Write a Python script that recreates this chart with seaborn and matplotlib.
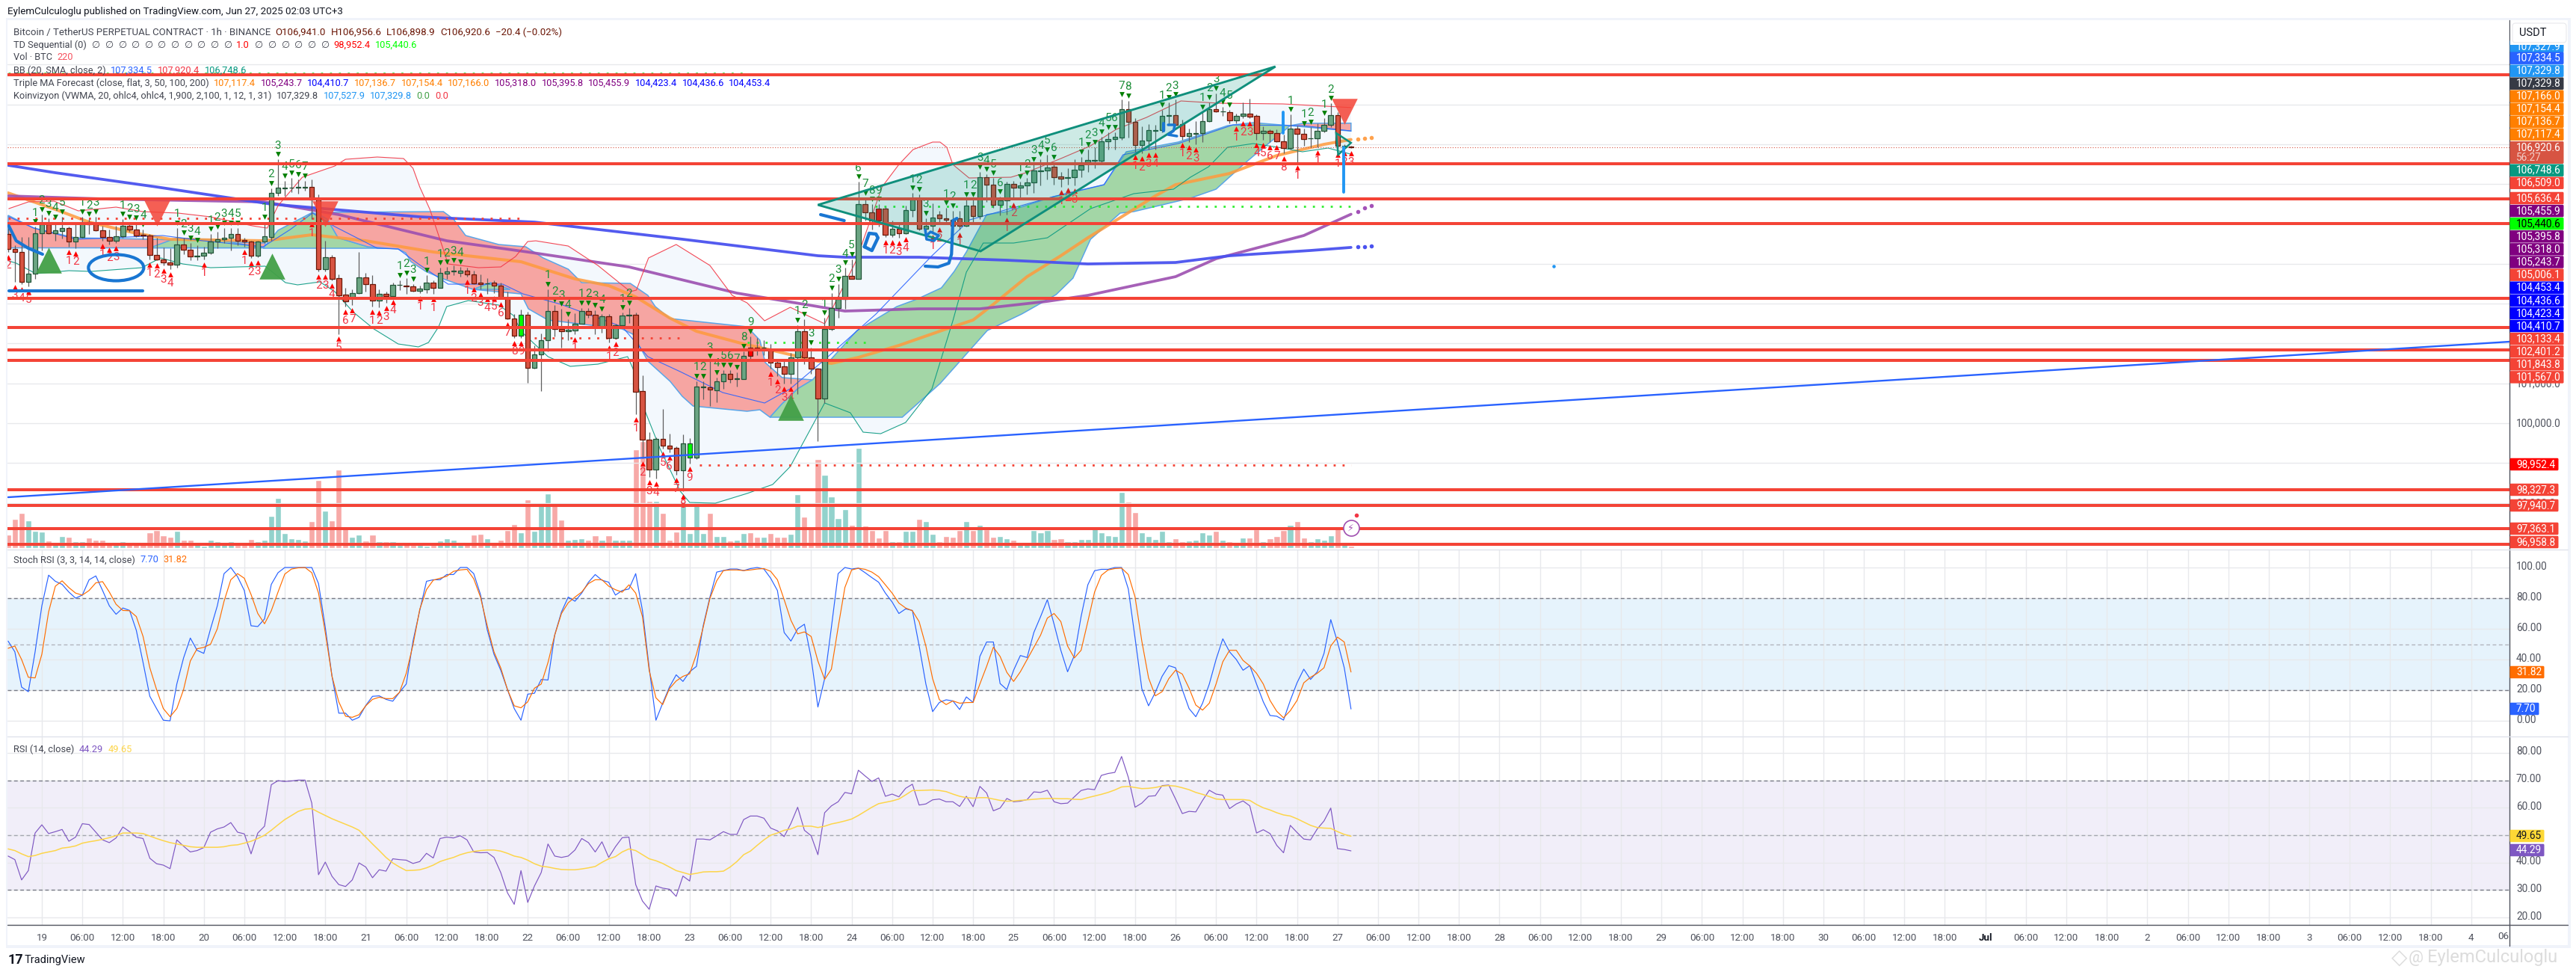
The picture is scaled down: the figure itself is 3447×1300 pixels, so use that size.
import numpy as np
import pandas as pd
import matplotlib
matplotlib.use("Agg")
import matplotlib.pyplot as plt
from matplotlib.patches import Ellipse, Rectangle, Polygon, FancyBboxPatch
import seaborn as sns

# ---------------------- DATA ----------------------
# hours since Jun 19 00:00 (UTC+3), bar -5 ... 194
hours = np.arange(-5, 195)
opens = [104741,104366,104291,103554,103759,104760,104991,104772,104829,104892,
104554,104666,105054,105004,104835,104666,104585,104685,104948,104854,
104729,104704,104229,104104,104041,103973,104479,104348,104191,104210,
104273,104554,104610,104648,104741,104591,104554,104210,104554,104679,
105772,105891,105904,105910,105910,105922,105604,103866,104160,103635,
103229,103148,103260,103654,103485,
103071,103239,103195,103465,103452,103427,103327,103365,103521,103402,
103758,103809,103777,103821,103740,103527,103502,103521,103446,103146,
102620,102201,102714,101382,101720,102076,102814,102357,102301,102333,
102502,102814,102714,102427,102677,102145,102452,102708,102714,100800,
99581,98843,99600,99431,99374,98824,99131,99131,100907,100894,
100832,101044,101232,101107,101113,
101895,101895,101889,101832,101520,101420,101245,101645,102301,101645,
101364,100626,102364,102883,103114,103689,103627,105491,105283,105378,
105378,104721,104877,104771,105341,105603,104884,104959,105228,105134,
105103,105147,104959,105453,105190,106166,105991,105472,105584,106009,
105916,105959,106034,106328,106334,
106429,106191,106147,106166,106354,106554,106592,106585,107067,107135,
107167,107880,107555,106980,107086,107342,107348,107717,107723,107505,
107211,107267,107273,107573,107880,107817,107798,107592,107705,107761,
107705,107273,107330,107273,107067,106898,107386,107254,107142,107148,
107330,107480,107723,106930,106941]
closes = [104366,104291,103554,103759,104760,104991,104772,104835,104892,104554,
104666,105054,104991,104835,104666,104585,104685,104948,104854,104716,
104704,104229,104104,104041,103973,104479,104348,104191,104210,104273,
104554,104610,104648,104741,104585,104554,104210,104554,104685,105772,
105904,105904,105916,105922,105922,105604,103866,104160,103616,103216,
103054,103260,103654,103485,103073,
103239,103195,103465,103477,103440,103327,103371,103521,103402,103765,
103802,103821,103821,103740,103508,103490,103515,103446,103146,102620,
102201,102714,101382,101720,102076,102814,102357,102301,102339,102502,
102814,102714,102427,102677,102145,102452,102695,102720,100794,99581,
98843,99600,99431,99368,98824,99487,99487,100913,100919,100838,
101044,101232,101101,101119,101696,
101695,101882,101901,101520,101414,101245,101645,102301,101645,101364,
100626,102364,102883,103114,103689,103627,105491,105283,105077,105077,
104721,104877,104771,105347,105603,104884,104959,105153,105134,105103,
104959,104959,105453,105190,106166,105991,105472,105584,106009,105916,
105959,106034,106334,106340,106422,
106179,106141,106166,106354,106473,106598,106604,107067,107135,107179,
107880,107555,106980,107086,107348,107355,107705,107730,107492,107211,
107273,107280,107573,107880,107817,107830,107592,107705,107761,107698,
107273,107330,107273,107067,106898,107386,107254,107135,107154,107330,
107480,107723,106967,106967,106920.6]
highs = [105054,104460,104679,104679,104929,105241,105148,105054,105179,104941,
104991,105179,105116,105179,104960,104866,104960,105116,105041,105023,
104866,104741,104648,104416,104398,104898,104648,104523,104460,104429,
104741,104804,104898,104898,104898,104648,104585,104585,105054,105897,
106616,106085,106148,106116,106085,106116,105741,104585,104229,103741,
103398,103366,104304,103773,103710,
103365,103302,103521,103583,103646,103490,103446,103708,103583,103896,
103915,103958,103927,103896,103833,103727,103633,103583,103533,103302,
102739,102845,102802,101957,102257,103365,102958,102864,102614,102758,
102896,102896,102833,102739,102739,102489,102770,102896,102770,101207,
99769,99643,100362,99737,99424,99718,99631,101050,101050,101551,
101144,101332,101332,101270,101802,
102177,102145,102083,101989,101614,101551,101770,102458,102614,101895,
101395,102645,103271,103489,103896,104114,106052,105647,105491,105491,
105428,105083,104990,105459,105772,105741,105146,105521,105334,105397,
105334,105334,105615,105615,106303,106241,106147,105678,106053,106084,
106053,106147,106491,106616,106741,
106554,106304,106398,106616,106679,106866,106929,107179,107304,107304,
108118,108086,107648,107442,107505,107492,107867,108055,108117,107617,
107398,107586,107805,108055,108273,107930,107867,107773,108055,108148,
107742,107442,107367,107367,107242,107742,107461,107398,107430,107523,
107648,108023,107805,106992,106956.6]
lows = [104304,103554,103491,103441,103616,104335,104741,104585,104629,104429,
104398,104648,104741,104816,104585,104491,104523,104648,104804,104679,
104616,104116,104085,103960,103866,103898,104241,104085,104085,104116,
104241,104398,104523,104335,104460,104429,104148,104166,104523,104585,
105710,105710,105804,105760,105835,105116,103804,103804,103585,102241,
102929,102960,103241,103304,102929,
102915,103021,103177,103333,103240,103302,103271,103271,103240,103396,
103615,103708,103677,103677,103490,103365,103240,103271,103115,102614,
102145,102145,101020,101363,100800,101801,102176,101895,102082,102239,
102489,102645,102239,102270,102020,102114,102427,102520,100225,99112,
98643,98612,99362,99268,98706,98299,98987,99093,100600,100425,
100519,100863,101020,100913,101113,
101583,101708,101708,101364,101176,100989,100989,100739,101489,101239,
99550,100507,102333,102645,102864,103627,103627,105083,104865,104927,
104677,104677,104646,104740,105177,104834,104740,104802,104990,105021,
104677,104865,104927,105053,105115,105553,105397,105209,105240,105615,
105647,105740,105772,105959,106116,
105991,105929,105991,105960,106179,106304,106398,106523,106866,106866,
107117,107167,106804,106773,106866,106866,107305,107492,107461,107117,
107055,106992,107055,107554,107805,107711,107523,107523,107648,107648,
107117,107117,107055,107055,106773,106867,106554,106960,106929,106929,
107305,107430,106867,106898,106898.9]
volumes = [1850,3890,4720,3730,2340,2180,990,760,1650,1520,860,860,1420,1150,1060,660,760,860,760,760,
760,2150,2410,1750,1490,2310,1060,1150,760,330,1060,860,760,860,430,430,1250,860,1060,4320,
6700,2050,1350,1250,990,3630,9110,5020,3730,10460,2840,1550,1850,960,1850,860,860,860,430,760,
430,430,260,430,960,1350,1150,430,760,1850,1950,1350,760,1150,2410,3230,2150,6500,2340,5910,
7290,5910,3830,1150,1250,1350,1060,1750,1150,1750,1060,1060,1060,13230,14300,6300,6300,4720,1150,2240,
6200,2050,6200,2050,4720,1650,1650,960,1060,2050,
2130,1480,1480,2040,1480,1480,1910,7250,4210,2910,11930,9770,6900,3990,5210,3120,13450,2990,2390,1390,
2390,950,950,2340,2260,3910,3560,1910,950,1610,1480,2390,3560,2390,3120,2470,1480,1610,1300,1090,
740,740,2390,2130,2390,1170,1260,950,870,1170,1170,2910,2130,1740,1610,7550,6160,4770,2130,1610,
1170,2340,950,1300,950,1040,1090,2130,1820,2340,1090,870,520,1390,1390,2470,950,1300,1610,2390,
3120,3560,1390,950,1300,1090,1690,2690,520,300]

stoch_k = [52,45,22,19,45,75,95,91,89,84,80,82,92,94.5,85,75,69.5,73.6,72,59,38,16,8,0.4,0,24,41,54,46,44,60,75,96,100,94,85,62,61.5,66.5,89,96.6,100,100,100,100,100,89.5,61,29,5,5,0.4,2.3,10,16,16.3,14,12.8,18.6,24,52,72,91,92,92,95.4,95.4,100,100,96,82.4,59.4,43.4,33,20.4,8,0.4,17.4,18,27,26.6,56,71,80.7,78,83.3,90.4,95.4,91.7,90.4,82,85,86,96,72,34.6,0.4,11.5,22,30,25.7,32,35.5,62,80.7,97,98,99,99,98,
99.3,100,99,93,85,57.6,52,60,63,41,9,27.5,61,96,100,99,99.6,96.6,93.4,90.4,83.3,77.5,70,73,72,49,24,6,12,13.7,13,7.4,15.6,12,42,51.4,51.4,24.3,20.4,33,42.6,41.3,57.6,68,79,63,46,32,42.6,68,88.7,97.9,98.8,98.8,100,100,86,54,21,9.8,18.6,29,36,34.6,20.4,8,2.7,11.5,24,40,53.5,45,40,33,36,24,12.4,3.5,3,0.5,13.3,24.8,33.7,27,32,44,66,51.4,34.6,7.7]
stoch_d = [47.3,48.8,40,28.4,28,43.4,71,87.8,91.3,86.9,83.3,82,85,90,90.8,84,76,72,71.8,68,55,34.6,20.4,8,2.7,8,20.4,39,47,47.9,50,60,78,92,96,93,82.4,70,63.3,71.8,84,95.7,99,99.8,100,96.6,83.3,57.6,29,12.4,3,2.3,4,9.8,14,15.4,14.5,14.5,18.6,31,49.6,72.7,85.6,91.7,93,94.3,97.5,98.4,98.8,92.6,80.7,62,45,34.6,20.4,9.8,8.5,12.4,21.3,24,38,55.9,70,77,80.7,84,89.5,92,92,87.8,85.5,83.9,88.7,83.3,68,32.8,15,10.6,21,26,29,30.7,43.4,61,79.8,91.3,98,98.4,98.4,98,
98.4,99,99.3,97.5,92,79,65.6,56.7,58,55,39,27,33.7,61,87,98.4,99.5,98.8,97,94,88.7,83.3,76.8,73.6,71.8,64.7,48.8,27.5,13.8,10.6,13,11.5,11.9,12,24,35.5,48,42,31.6,25.7,32,40,47.9,55.9,67,70,64.7,48.8,41,46,64.7,84,94.9,98.4,99.3,99.6,95.4,80.7,52,28,16.3,19,27.5,33,30.5,21.3,10.3,7,11.5,24,38.5,46,46,39.4,35.8,31,24,13.3,6.2,2,6.6,13.3,24.8,28.4,31,34.6,48.8,54.6,51.4,31.82]
rsi = [42.4,41.1,33.7,37.1,50.8,53.8,50.6,51.3,52.1,47.8,49.3,54.2,53.9,51.1,48.3,47.3,49,53,51.3,49.3,48.8,41.6,39.6,39.1,37.8,48.3,46,43.9,44.4,45.5,51.1,52.3,53,54.6,51.1,50.5,43.2,50.8,53.3,68.4,69.9,69.6,69.8,70.1,70.1,61.7,35.6,40.2,35,32,31.3,33.7,39.9,38.4,34.5,37.4,36.9,41.4,41.1,40.9,39.7,40.4,43.4,41.7,48.8,49.3,49,49.8,48.3,43.9,43.6,43.7,41.9,36.4,29,24.8,37.1,25.5,31.5,36.4,46.8,42.4,41.9,42.4,44.6,48.8,47.3,43.9,47.6,41.9,45.8,49.1,49.3,32,26,23,31.5,30.7,30.3,27.7,35.1,33.3,48.6,48.6,48.3,49.8,51.3,50.3,50.3,55.7,
57,57,56.2,52.6,51.6,49.5,54.3,60.2,51.8,49.8,42.9,58.2,60.7,62.2,65.6,65.1,73.7,71.6,69.6,70.9,64.2,65,64,67.1,68.6,61,61.4,62.9,63.2,62.2,62.2,60.5,64.2,60.4,67.8,65.4,58.9,59.9,63.4,62.2,62.4,63,65.8,65.6,66.4,62.2,61.5,61.7,64,66.3,66.9,66.6,71.8,72.5,72.9,78.7,71.1,60.2,61.7,64.2,64.4,68.1,68.3,63.2,57.9,58.7,58.5,62.7,66.4,65,64.6,59.7,61.4,62.5,60.7,50.8,52,50.6,46.3,43.6,53.6,51,48.6,48.3,52.3,55.2,59.9,45.1,44.8,44.29]
rsi_ma = [45,44.4,43.2,42.2,42.6,43.4,43.9,44.4,45.3,45.6,46.1,47.1,47.6,48,48.5,49.1,49.8,50.8,50.8,50.8,50.6,49.7,48.8,48,47.3,46.8,46.3,45.8,45.6,45.6,45.6,45.6,45.8,46.3,46.5,47.1,47.8,48.8,50,51.8,53.8,55.7,57.2,58.7,59.5,59.7,58.4,57.2,56,55,54,53,51.8,49.3,46.8,44.4,41.9,39.9,38.4,37.1,37.2,37.4,38.1,39.1,40.4,41.2,41.9,42.9,43.6,44.1,44.4,44.6,44.6,44.2,43.4,42.4,41.9,40.9,39.6,38.7,38.4,37.9,37.5,37.4,37.4,37.7,38.1,38.6,40.1,41.4,42.2,43.9,45,44.4,42.9,41.4,40.7,39.7,38.4,37.1,36.4,35.7,36.1,36.6,36.7,36.7,36.9,38.4,40.4,42.9,
44.2,46.3,48.3,50,50.8,51.8,52.3,53.3,53.3,53.3,52.8,53.3,54.1,54.6,55.2,55.9,57.2,58.7,60.2,61.5,62,62.5,63.2,64.7,66.3,66.3,66.4,66.5,66.3,65.9,65,64.2,63.7,63.5,63.7,63.7,63.2,62.7,62.4,62.5,62.7,62.9,63.1,63.3,63.4,63.4,63.3,63.3,63.1,63,63.7,64.3,64.9,65.6,66.5,67.6,67.8,67.4,67,67.1,67.4,67.9,68.1,67.9,67.3,66.6,65.6,64.9,64.1,63.2,63,63,63,63,62.7,61.2,60,59.2,58.2,57.4,57,56,54.8,53.6,52.8,52.6,52.5,51.3,50.3,49.65]

ma200_h = [-5,2,17,34,56,73,95,115,119,130,143,155,168,176,188,194]
ma200_p = [106472,106285,105928,105497,105178,105046,104615,104202,104165,104165,104090,103996,104033,104202,104334,104410.7]
ma100_h = [-5,9,33,44,60,72,87,103,105,113,119,130,139,149,155,168,174,187,194]
ma100_p = [105703,105628,105553,105234,104577,104296,103921,103264,103208,102983,102814,102870,102870,103058,103208,103677,104127,104709,105243.7]
ma50_h = [-5,2,7,14,19,33,40,48,58,71,79,84,88,93,97,104,108,115,117,121,127,134,138,141,146,151,155,165,168,176,183,190,194]
ma50_p = [105778,105365,105046,104765,104615,104577,104728,104577,104296,104052,103621,103452,103170,102645,102307,101989,101838,101557,101501,101651,101951,102364,102589,102983,103677,104202,104652,105703,105984,106266,106716,106997,107117.4]
fc_hours = [195,196,197]
fc_ma50 = [107136.7,107154.4,107166.0]
fc_ma100 = [105318.0,105395.8,105455.9]
fc_ma200 = [104423.4,104436.6,104453.4]

bb_up_h = [-4.9,-2,1.8,5.4,11,15,20.2,25,31.2,33.4,35,38.6,43.4,45,49.7,53.6,55,56,57.5,59.1,60.2,64.7,68,70.2,72,73.2,78,82.4,87.2,88.1,89.9,94,99,102.3,104.5,107.1,110.9,116,120.6,124.5,127,129.1,132,133.1,134.1,135,137.4,143.6,145.8,151,155.4,159.2,163.7,168.8,174.4,183.9,194]
bb_up_p = [105384,105553,105572,105328,105422,105309,105272,105178,104953,104896,105459,106172,106453,106622,106679,106641,106397,105928,105365,104559,103996,103902,103921,104183,104559,104577,104446,103958,103302,103339,104146,104484,103958,103208,103020,102570,102908,102495,104052,105928,106491,106866,107054,107054,106922,106491,106153,106172,106285,106641,106960,107373,107673,108086,108029,108011,107920.4]
bb_lo_h = [-4.9,-3.8,-0.9,4,7.3,14.8,17.6,20.9,25,33.1,36.1,37.9,41.2,43.4,46.1,49.2,52.8,55.8,57.3,58.8,60,63.2,67.7,69.9,71,75,78.3,82.4,86.8,87.6,89.4,91.6,94.6,96,99.8,104.5,108.3,110.9,116,119.8,121.7,124.3,128,131.9,135,137,139.5,144,149,155.4,161.8,167.7,170.2,172.9,175.7,179.5,183.2,186.8,190.6,194]
bb_lo_p = [104071,104015,103752,103827,103808,103902,104146,103996,103902,103940,103527,103471,103546,103302,102795,102364,101989,101914,102026,102420,102927,103077,102964,102701,102307,101670,101426,101482,101670,101369,100300,99362,98293,98011,97993,98237,98462,98912,100507,100263,99775,99737,100019,100863,102570,103790,104521,104521,104652,105384,105759,105872,106172,106435,106922,107016,106922,106810,106904,106748.6]
bb_mid_h = [-4.9,-1.2,5.1,17.9,23.9,32.8,36.8,40.1,43.4,49.7,52.8,55.8,60.2,68.3,71.3,76.9,86,89.8,94.6,100.9,107.1,110.9,116,123.6,131.9,137.5,149.9,157.4,160.2,168.4,176.5,186.8,194]
bb_mid_p = [105178,104896,104615,104709,104577,104427,104859,105272,104934,104390,104371,103996,103489,103489,103245,102983,102420,101670,101294,100769,100507,100863,101595,102739,104202,105103,105684,105984,106735,107016,107485,107466,107334.5]

red1_h = [-5,-1.2,4.9,16.5,33.1,33.1,-5]
red1_p = [105215,104896,104652,104615,104521,104400,104400]
grn0_h = [16,20,26,33]
grn0_p = [104400,104650,104600,104400]
grn1_h = [32.8,35,40.1,42.3,43.9,48.3,52.8]
grn1_p = [104390,104840,105290,105121,104652,104427,104390]
red2_h = [40.6,59.5,61,62.8,67.7,71.7,74.3,78,80,87.2,89.8,90.9,93.1,104.5,106.4,107.2,109.7,114.2,112,109.7,107.9,106.4,104.5,96.5,94.9,93.1,89.8,87.6,86,75,72.1,71,63.9,59.5,56.9,54.7,53.9,52.8,48.3,43.9,42.3]
red2_p = [105290,105309,105121,104709,104484,104427,104146,103865,103527,103508,103208,102927,102626,102420,102082,101520,101144,101088,100863,100488,100150,100338,100300,100431,100675,101051,101557,102232,102364,102589,102870,103245,103358,103621,103808,104052,104277,104371,104427,104652,105121]
grn2_h = [63.9,66.5,69.4]
grn2_p = [103358,103527,103358]
grn3_h = [107.9,109.7,112,114.2,120.8,126.7,129.7,133.3,135.2,137,140,143,149.9,157.4,160.7,168.4,175.7,179.5,185,180.8,178.3,174,170.2,161.8,159.8,155.4,152.8,150.3,145.2,140.1,133.1,127.5]
grn3_p = [100150,100488,100863,101088,102326,102927,103114,103396,103808,104296,105234,105309,105684,105984,106810,107054,107466,107541,107466,106885,106528,105872,105647,105309,105272,104615,103640,103227,102739,102326,100994,100150]
red3_h = [185,186.8,194,194]
red3_p = [107466,107523,107528,107330]

red_levels = [108742,106509,105636.4,105006.1,103133.4,102401.2,101843.8,101567,98327.3,97940.7,97363.1,96958.8]
trend_h = [-5,365.67]
trend_p = [98143,102045]
wedge_h = [115,182.8,139.1]
wedge_p = [105478,108949,104315]
wedge2_h = [191.8,194,192.1]
wedge2_p = [107279,107035,106735]

td_up_h = [-1,0,1,2,3,6,7,8,12,13,14,15,20,21,22,23,25,26,27,28,29,33,34,35,36,37,38,39,53,54,55,57,59,60,61,62,75,76,77,78,80,81,82,83,86,87,97,98,99,100,101,102,103,104,105,112,113,114,116,117,118,119,120,121,122,123,124,129,130,131,134,135,137,138,139,140,141,142,145,146,147,148,149,150,154,155,156,157,158,159,160,161,166,167,168,172,173,174,175,176,185,187,188,190,191]
td_up_n = [1,2,3,4,5,1,2,3,1,2,3,4,1,2,3,4,1,2,3,4,5,1,2,3,4,5,6,7,1,2,3,1,1,2,3,4,1,2,3,4,1,2,3,4,1,2,1,2,3,4,5,6,7,8,9,1,2,3,1,2,3,4,5,6,7,8,9,1,2,3,1,2,1,2,3,4,5,6,1,2,3,4,5,6,1,2,3,4,5,6,7,8,1,2,3,1,2,3,4,5,1,1,2,1,2]
td_dn_h = [-5,-4,-3,-2,4,5,9,10,11,16,17,18,19,24,30,31,32,40,41,42,43,44,45,46,49,50,51,52,56,58,63,64,65,66,67,68,69,70,71,79,84,85,88,89,90,91,92,93,94,95,96,108,109,110,111,125,126,127,128,132,133,136,143,144,151,152,153,162,163,164,165,169,170,171,177,178,179,180,181,182,183,184,186,189,192,193,194]
td_dn_n = [2,3,4,5,1,2,1,2,3,1,2,3,4,1,1,2,3,1,2,3,4,5,6,7,1,2,3,4,1,1,1,2,3,4,5,6,7,8,9,1,1,2,1,2,3,4,5,6,7,8,9,1,2,3,4,1,2,3,4,1,2,1,1,2,1,2,3,1,2,3,4,1,2,3,1,2,3,4,5,6,7,8,1,1,1,2,3]
lime_bars = [71,96]
bright_red_bars = [105,124]
tri_down_h = [17,42,193]
tri_down_p = [105281,105253,107814]
tri_up_h = [1,34.1,111]
tri_up_p = [104090,103940,100403]

dot_red_a = ([-5,71],[105140,105140])
dot_red_b = ([73,94.7],[102139,102139])
dot_red_c = ([97.5,194],[98952.4,98952.4])
dot_lime_a = ([-5,104],[108780,108780])
dot_lime_b = ([123.5,194],[105440.6,105440.6])
dot_lime_c = ([104.5,123],[102026,102026])
last_price = 106920.6

ink_a_h=[-4.9,-3.8,-2,0.1];        ink_a_p=[104953,104577,104390,104240]
ink_b_h=[-4.9,15];                 ink_b_p=[103326,103326]
ink_c_h=[115.4,118.9];             ink_c_p=[105234,105084]
ink_o_h=[121.9,122.6,123.6,123.9,123,121.9]; ink_o_p=[104427,104765,104746,104652,104333,104427]
ink_b6_h=[130.9,131.1,132.2,132.9,131.7,131.1]; ink_b6_p=[104859,104615,104577,104709,104802,104709]
ink_j_h=[135.6,135,134.8,134.4,132.8,130.9]; ink_j_p=[105140,105084,104240,104015,103921,103940]
ink_1_h=[166.2,166.2];             ink_1_p=[107523,107335]
ink_2_h=[166.9,167.9,167.7,166.9,168.2]; ink_2_p=[107486,107486,107335,107241,107204]
ink_v_h=[183.9,183.9];             ink_v_p=[107804,107279]
ink_w_h=[192.9,192.9];             ink_w_p=[106922,105797]

axis_labels = ["107,334.5","107,329.8","107,329.8","107,166.0","107,154.4","107,136.7","107,117.4"]
axis_colors = ["#2962ff","#2196f3","#363a45","#ff7f00","#ff7f00","#ff7f00","#ff7f00"]
axis2_labels = ["105,636.4","105,455.9","105,440.6","105,395.8","105,318.0","105,243.7","105,006.1","104,453.4","104,436.6","104,423.4","104,410.7","103,133.4","102,401.2","101,843.8","101,567.0"]
axis2_colors = ["#f44336","#800080","#00ff00","#800080","#800080","#800080","#f44336","#0000ff","#0000ff","#0000ff","#0000ff","#f44336","#f44336","#f44336","#f44336"]
low_labels = ["98,952.4","98,327.3","97,940.7","97,363.1","96,958.8"]
low_colors = ["#ff0000","#f44336","#f44336","#f44336","#f44336"]
stoch_ticks = [0,20,40,60,80,100]
rsi_ticks = [20,30,40,50,60,70,80]

assert all(len(a)==200 for a in [opens,closes,highs,lows,volumes,stoch_k,stoch_d,rsi,rsi_ma]), [len(a) for a in [opens,closes,highs,lows,volumes,stoch_k,stoch_d,rsi,rsi_ma]]
assert len(td_up_h)==len(td_up_n) and len(td_dn_h)==len(td_dn_n), (len(td_up_h),len(td_up_n),len(td_dn_h),len(td_dn_n))

# ---------------------- STYLE ----------------------
sns.set_theme(style="white")
plt.rcParams['font.family'] = ['Roboto','DejaVu Sans']
W,H = 3448,1300
fig = plt.figure(figsize=(W/100,H/100),dpi=100,facecolor='white')
def axpx(x0,y0,x1,y1):
    return fig.add_axes([x0/W,1-y1/H,(x1-x0)/W,(y1-y0)/H])
XL,XR = 10,3358
ax = axpx(XL,27,XR,735)
ax_s = axpx(XL,735,XR,985)
ax_r = axpx(XL,985,XR,1237)
xlim = (-5.094,365.67)
GRID='#e8e9ec'
ax_v = ax.twinx()
ax.set_zorder(ax_v.get_zorder()+1); ax.patch.set_visible(False)

# volume
df = pd.DataFrame({'hour':hours,'vol':volumes,'dir':np.where(np.array(closes)>=np.array(opens),'up','down')})
sns.barplot(data=df,x='hour',y='vol',hue='dir',palette={'up':'#92d2cc','down':'#f7a9a7'},native_scale=True,
            dodge=False,width=0.9,saturation=1,legend=False,ax=ax_v)
ax_v.set_ylim(-200,70600); ax_v.set_yticks([]); ax_v.set_ylabel(''); ax_v.set_xlabel('')
ax_v.grid(False)

def line(axx,xs,ys,color,lw,z=4,alpha=1,ls='-'):
    sns.lineplot(x=list(xs),y=list(ys),ax=axx,color=color,lw=lw,zorder=z,alpha=alpha,ls=ls,estimator=None,sort=False,legend=False,errorbar=None)

# Bollinger
ax.fill(list(bb_up_h)+list(bb_lo_h[::-1]),list(bb_up_p)+list(bb_lo_p[::-1]),color='#f3f8fd',zorder=1,lw=0)
# Koinvizyon bands
for hs,ps,c in [(red1_h,red1_p,'#f7a3a0'),(grn0_h,grn0_p,'#a3d6a6'),(grn1_h,grn1_p,'#a3d6a6'),(red2_h,red2_p,'#f6a5a2'),
                (grn2_h,grn2_p,'#a3d6a6'),(grn3_h,grn3_p,'#a3d6a6'),(red3_h,red3_p,'#f6a5a2')]:
    ax.add_patch(Polygon(np.c_[hs,ps],closed=True,facecolor=c,edgecolor='#5aa5e8',lw=1.1,zorder=2))
# thin BB lines
line(ax,bb_up_h,bb_up_p,'#f23645',0.8,3.2,0.9)
line(ax,bb_lo_h,bb_lo_p,'#089981',0.8,3.2,0.9)
line(ax,bb_mid_h,bb_mid_p,'#2962ff',0.8,3.2,0.9)
# Triple MA
line(ax,ma50_h,ma50_p,'#ff9a3c',2.9,3,0.85)
line(ax,ma100_h,ma100_p,'#9c4fb0',2.7,3,0.9)
line(ax,ma200_h,ma200_p,'#4a52ef',2.7,3,0.95)
for fc,c in [(fc_ma50,'#ffa24d'),(fc_ma100,'#a352b8'),(fc_ma200,'#4a52ef')]:
    ax.scatter(fc_hours,fc,s=16,color=c,zorder=3,lw=0)

# candles
o,c,hi,lo = map(np.array,(opens,closes,highs,lows))
up = c>=o
ax.vlines(hours,lo,hi,color='#5f5f5f',lw=0.9,zorder=5)
bcol = np.where(up,'#6ba583','#d75442').astype(object)
ecol = np.where(up,'#225437','#6b1707').astype(object)
for b in lime_bars: bcol[b+5]='#00ff00'
for b in bright_red_bars: bcol[b+5]='#ff0000'
ax.bar(hours,np.maximum(np.abs(c-o),6),bottom=np.minimum(o,c),width=0.72,color=list(bcol),edgecolor=list(ecol),lw=0.9,zorder=5.2)

# TD sequential
hi_map = dict(zip(hours,highs)); lo_map = dict(zip(hours,lows))
ax.scatter(td_up_h,[hi_map[t]+130 for t in td_up_h],marker='v',s=24,color='#007f00',lw=0,zorder=6)
ax.scatter(td_dn_h,[lo_map[t]-130 for t in td_dn_h],marker='^',s=24,color='#ff0000',lw=0,zorder=6)
for t,n in zip(td_up_h,td_up_n):
    ax.text(t,hi_map[t]+350,str(n),color='#1f8f3a',fontsize=11,ha='center',va='center',zorder=6)
for t,n in zip(td_dn_h,td_dn_n):
    ax.text(t,lo_map[t]-350,str(n),color='#f23645',fontsize=11,ha='center',va='center',zorder=6)
ax.scatter(tri_down_h,tri_down_p,marker='v',s=620,color='#f44336',alpha=0.85,lw=0,zorder=6.5)
ax.scatter(tri_up_h,tri_up_p,marker='^',s=620,color='#43a047',alpha=0.95,lw=0,zorder=6.5)

# levels
for v in red_levels:
    ax.axhline(v,color='#f44336',lw=2.9,zorder=7)
line(ax,trend_h,trend_p,'#2962ff',1.7,7.5)
ax.axhline(last_price,color='#d75442',lw=0.8,ls=(0,(1,2)),zorder=4)
for (xs,ys),col in [(dot_red_a,'#f44336'),(dot_red_b,'#f44336'),(dot_red_c,'#f44336'),(dot_lime_a,'#43d843'),(dot_lime_b,'#33ee33'),(dot_lime_c,'#33ee33')]:
    ax.plot(xs,ys,color=col,lw=2,ls=(0,(1,3.3)),zorder=4.5)

# drawings
ax.add_patch(Polygon(np.c_[wedge_h,wedge_p],closed=True,facecolor=(0.03,0.6,0.5,0.2),edgecolor='#0f8f7c',lw=2.1,zorder=8))
ax.add_patch(Polygon(np.c_[wedge2_h,wedge2_p],closed=True,facecolor=(0.03,0.6,0.5,0.08),edgecolor='#0f8f7c',lw=1.8,zorder=8))
INK='#1976d2'
for hs,ps,lw_,cc in [(ink_a_h,ink_a_p,3,INK),(ink_b_h,ink_b_p,3,INK),(ink_c_h,ink_c_p,3,INK),(ink_o_h,ink_o_p,3.2,INK),(ink_b6_h,ink_b6_p,2.5,INK),
                     (ink_j_h,ink_j_p,3,INK),(ink_1_h,ink_1_p,3,INK),(ink_2_h,ink_2_p,2.5,INK),(ink_v_h,ink_v_p,2.8,'#2196f3'),(ink_w_h,ink_w_p,2.8,'#2196f3')]:
    line(ax,hs,ps,cc,lw_,9)
ax.add_patch(Ellipse((11,103902),width=8.2,height=656,fill=False,edgecolor=INK,lw=3,zorder=9))
ax.scatter([224],[103940],s=5,color='#2196f3',zorder=4)
ax.scatter([194],[97370],s=230,facecolor='white',edgecolor='#a04fb0',lw=1.2,zorder=9)
ax.text(194,97370,'\u26a1',color='#a04fb0',fontsize=9,ha='center',va='center',zorder=9.5,family='DejaVu Sans')
ax.scatter([194.8],[97700],s=16,color='#f23645',zorder=9.6,lw=0)

# Stoch RSI
ax_s.axhspan(20,80,color='#e6f3fc',lw=0,zorder=0.5)
for v,cc,l in [(80,'#787b86',1.0),(20,'#787b86',1.0),(50,'#b2b5be',1.0)]:
    ax_s.axhline(v,color=cc,lw=l,ls=(0,(3.5,2.5)),zorder=2)
line(ax_s,hours,stoch_k,'#2962ff',0.85)
line(ax_s,hours,stoch_d,'#ff6d00',0.85)
# RSI
ax_r.axhspan(30,70,color='#f1eef9',lw=0,zorder=0.5)
for v,cc in [(70,'#787b86'),(30,'#787b86'),(50,'#a3a6af')]:
    ax_r.axhline(v,color=cc,lw=1.0,ls=(0,(3.5,2.5)),zorder=2)
line(ax_r,hours,rsi,'#7e57c2',0.85)
line(ax_r,hours,rsi_ma,'#fdd54a',1.1)

# axes
tick_h = np.arange(0,366,6)
tick_l=[]
for t in tick_h:
    if t%24==0:
        d=19+t//24
        tick_l.append('Jul' if d==31 else str(d if d<=30 else d-30))
    else:
        tick_l.append(f'{t%24:02d}:00')
for A,yl,yt in [(ax,(96830,110112),np.arange(97000,110000,1000)),(ax_s,(-10.2,111.7),stoch_ticks),(ax_r,(17.3,86),rsi_ticks)]:
    A.set_xlim(*xlim); A.set_ylim(*yl)
    A.set_xticks(tick_h); A.set_yticks(yt)
    A.grid(True,color=GRID,lw=1.0,zorder=0); A.set_axisbelow(True)
    A.tick_params(length=0,labelleft=False,labelbottom=False,labelright=False,left=False,right=False)
    A.set_xlabel(''); A.set_ylabel('')
    for s in A.spines.values(): s.set_visible(False)
ax_v.set_xlim(*xlim)
for s in ax_v.spines.values(): s.set_visible(False)
ax_v.tick_params(length=0,labelbottom=False,labelright=False)
ax_v.set_xticks([])
ax_s.patch.set_visible(True)
ax_r.tick_params(labelbottom=True,pad=8,labelsize=9.6,labelcolor='#50535e')
ax_r.set_xticklabels(tick_l)
for lab,t in zip(ax_r.get_xticklabels(),tick_l):
    if t=='Jul':
        lab.set_fontweight('bold'); lab.set_color('#131722')

# overlay
ov = fig.add_axes([0,0,1,1],zorder=100); ov.set_xlim(0,W); ov.set_ylim(H,0); ov.axis('off'); ov.patch.set_visible(False)
BAND='#f0f3fa'
ov.add_patch(Rectangle((8,24),3432,3,color=BAND,lw=0))
ov.add_patch(Rectangle((8,1264),3432,4,color=BAND,lw=0))
ov.add_patch(Rectangle((3436,24),4,1244,color=BAND,lw=0))
ov.add_patch(Rectangle((8,24),2,1244,color=BAND,lw=0))
ov.plot([XR,XR],[27,1265],color='#50535e',lw=1)
ov.plot([XL,3436],[1237,1237],color='#50535e',lw=1)
ov.plot([XL,3436],[735,735],color='#e0e3eb',lw=1)
ov.plot([XL,3436],[985,985],color='#e0e3eb',lw=1)
ov.text(3357,1252,'06',ha='right',va='center',fontsize=9.6,color='#50535e')

rend = fig.canvas.get_renderer()
TXT='#434651'
def seq(x,y,parts,gap=6.5,fs=9.2):
    for s,cc in parts:
        t=ov.text(x,y,s,color=cc,fontsize=fs,va='center',ha='left')
        x+=t.get_window_extent(rend).width+gap
R_='#6b1707'; O_='#ff7f00'; P_='#800080'; B_='#0000ff'
seq(10,16,[("EylemCulculoglu published on TradingView.com, Jun 27, 2025 02:03 UTC+3",'#131722')],fs=9.6)
seq(18,43,[("Bitcoin / TetherUS PERPETUAL CONTRACT · 1h · BINANCE",TXT),("O106,941.0",R_),("H106,956.6",R_),("L106,898.9",R_),("C106,920.6",R_),("−20.4 (−0.02%)",R_)],fs=9.5)
seq(18,60,[("TD Sequential (0)",TXT)]+[("∅",TXT)]*11+[("1.0",'#ff0000')]+[("∅",TXT)]*6+[("98,952.4",'#ff0000'),("105,440.6",'#00ff00')])
seq(18,77,[("Vol · BTC",TXT),("220",'#f7525f')])
seq(18,94,[("BB (20, SMA, close, 2)",TXT),("107,334.5",'#2962ff'),("107,920.4",'#f23645'),("106,748.6",'#089981')])
seq(18,111,[("Triple MA Forecast (close, flat, 3, 50, 100, 200)",TXT),("107,117.4",O_),("105,243.7",P_),("104,410.7",B_),("107,136.7",O_),("107,154.4",O_),("107,166.0",O_),
            ("105,318.0",P_),("105,395.8",P_),("105,455.9",P_),("104,423.4",B_),("104,436.6",B_),("104,453.4",B_)])
seq(18,128,[("Koinvizyon (VWMA, 20, ohlc4, ohlc4, 1,900, 2,100, 1, 12, 1, 31)",TXT),("107,329.8",TXT),("107,527.9",'#2196f3'),("107,329.8",'#2196f3'),("0.0",'#43a047'),("0.0",'#f23645')])
seq(18,749,[("Stoch RSI (3, 3, 14, 14, close)",TXT),("7.70",'#2962ff'),("31.82",'#ff6d00')])
seq(18,1002,[("RSI (14, close)",TXT),("44.29",'#7e57c2'),("49.65",'#fdd54a')])

def tag(y,s,color,x1=3432,tc='white',h=16.5):
    ov.add_patch(FancyBboxPatch((XR+0.5,y-h/2),x1-XR-2,h,boxstyle='round,pad=0,rounding_size=1.5',fc=color,ec='none',zorder=3))
    ov.text(3367,y,s,color=tc,fontsize=9.8,va='center',ha='left',zorder=4)
for yy,s in [(513,"101,000.0"),(566,"100,000.0"),(673,"98,000.0")]:
    ov.text(3367,yy,s,color='#50535e',fontsize=9.8,va='center',ha='left',zorder=2)
tag(62,"107,327.9",'#2196f3')
ov.add_patch(Rectangle((XR+1,27),77,33,color='white',lw=0,zorder=3.5))
ov.add_patch(FancyBboxPatch((3362,31),72,26,boxstyle='round,pad=0,rounding_size=4',fc='white',ec='#e8e9ec',lw=0.8,zorder=5))
ov.text(3371,44,"USDT",fontsize=10.5,color='#131722',va='center',zorder=6)
for i,(s,cc) in enumerate(zip(axis_labels,axis_colors)):
    tag(77.7+17*i,s,cc)
ov.add_patch(FancyBboxPatch((XR+0.5,189),72,30,boxstyle='round,pad=0,rounding_size=1.5',fc='#d75442',ec='none',zorder=3))
ov.text(3367,197,"106,920.6",color='white',fontsize=9.8,va='center',zorder=4)
ov.text(3367,211,"56:27",color='#f3cfc9',fontsize=9.8,va='center',zorder=4)
tag(227.7,"106,748.6",'#089981')
tag(244.7,"106,509.0",'#f44336')
for i,(s,cc) in enumerate(zip(axis2_labels,axis2_colors)):
    tag(265+17.1*i,s,cc,tc='black' if cc=='#00ff00' else 'white')
for yy,s,cc in zip([621,655,676,707,725],low_labels,low_colors):
    tag(yy,s,cc,x1=3425)
for v,yy in zip(stoch_ticks,[963,922,881,840,799,758]):
    ov.text(3367,yy,f"{v:.2f}",color='#50535e',fontsize=9.8,va='center')
for v,yy in zip(rsi_ticks,[1226,1189,1152,None,1079,1042,1005]):
    if yy: ov.text(3367,yy,f"{v:.2f}",color='#50535e',fontsize=9.8,va='center')
tag(899,"31.82",'#ff6d00',x1=3406)
tag(948,"7.70",'#2962ff',x1=3399)
tag(1118,"49.65",'#fdd835',x1=3406,tc='#131722')
tag(1137,"44.29",'#7e57c2',x1=3406)

# footer
ov.text(11,1284,"17",fontsize=13,fontweight='bold',color='#131722',va='center')
ov.text(33,1284,"TradingView",fontsize=10.5,color='#131722',va='center')
ov.text(3200,1281,"\u25c7",fontsize=20,color='#dcdcdc',va='center',family='DejaVu Sans')
ov.text(3223,1281,"@",fontsize=16,color='#dcdcdc',va='center')
ov.text(3248,1281,"EylemCulculoglu",fontsize=17,color='#dcdcdc',va='center')

fig.savefig('out.png',dpi=100,facecolor='white')
